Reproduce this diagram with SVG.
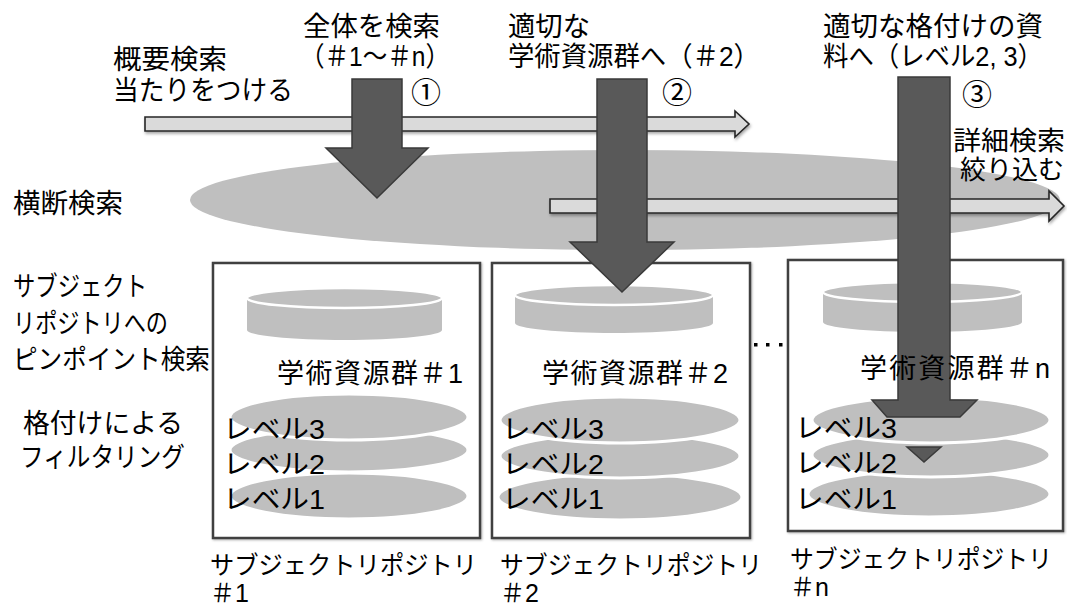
<svg xmlns="http://www.w3.org/2000/svg" width="1067" height="607" viewBox="0 0 1067 607">
<defs>
<style>
text{font-family:"Liberation Sans","Noto Sans CJK JP",sans-serif;fill:#000}
.t{font-size:27px}
.s{font-size:26px}
.c{font-size:30px;font-family:"Noto Sans CJK JP",sans-serif}
.m{font-size:27px}
.lv{font-size:27px}
.bl{font-size:25px}
.dark{fill:#595959;stroke:#3a3a3a;stroke-width:1.5}
.hol{fill:#dadada;stroke:#262626;stroke-width:1.6;filter:url(#sh)}
.box{fill:#fff;stroke:#404040;stroke-width:2.5;filter:url(#sh2)}
.cyl{fill:#bfbfbf}
.cyltop{fill:#bfbfbf;stroke:#fff;stroke-width:2.5}
.lvl{fill:#bfbfbf;stroke:#fff;stroke-width:3}
</style>
<filter id="sh" x="-5%" y="-50%" width="110%" height="200%"><feDropShadow dx="1" dy="2" stdDeviation="1.5" flood-color="#000" flood-opacity="0.35"/></filter>
<filter id="sh2" x="-5%" y="-5%" width="110%" height="110%"><feDropShadow dx="1" dy="1" stdDeviation="1" flood-color="#000" flood-opacity="0.3"/></filter>
</defs>
<rect width="1067" height="607" fill="#fff"/>

<g id="cross-search">
<ellipse cx="625" cy="200" rx="435" ry="50" fill="#bfbfbf"/>
<text class="t" x="13" y="213" textLength="110" lengthAdjust="spacingAndGlyphs">横断検索</text>
</g>

<g id="box1">
<rect class="box" x="213" y="263" width="267" height="275"/>
<path class="cyl" d="M247,298 L247,330 A97.5,10 0 0 0 442,330 L442,298 Z"/>
<ellipse class="cyltop" cx="344.5" cy="298" rx="97.5" ry="10"/>
<text class="m" x="277" y="383" textLength="186" lengthAdjust="spacing">学術資源群＃1</text>
<ellipse class="lvl" cx="349" cy="496" rx="119" ry="23"/>
<ellipse class="lvl" cx="349" cy="450" rx="119" ry="22"/>
<ellipse class="lvl" cx="349" cy="417" rx="119" ry="23"/>
<text class="lv" x="223" y="439" textLength="102" lengthAdjust="spacingAndGlyphs">レベル3</text>
<text class="lv" x="223" y="474" textLength="102" lengthAdjust="spacingAndGlyphs">レベル2</text>
<text class="lv" x="223" y="509" textLength="102" lengthAdjust="spacingAndGlyphs">レベル1</text>
<text class="bl" x="210" y="574" textLength="267" lengthAdjust="spacingAndGlyphs">サブジェクトリポジトリ</text>
<text class="bl" x="210" y="602">＃1</text>
</g>

<g id="box2">
<rect class="box" x="492" y="263" width="258" height="275"/>
<path class="cyl" d="M515,295 L515,323 A99,10 0 0 0 713,323 L713,295 Z"/>
<ellipse class="cyltop" cx="614" cy="295" rx="99" ry="10"/>
<text class="m" x="542" y="383" textLength="186" lengthAdjust="spacing">学術資源群＃2</text>
<ellipse class="lvl" cx="620" cy="497" rx="122" ry="23"/>
<ellipse class="lvl" cx="620" cy="456" rx="120" ry="22"/>
<ellipse class="lvl" cx="620" cy="420" rx="120" ry="23"/>
<text class="lv" x="502" y="439" textLength="102" lengthAdjust="spacingAndGlyphs">レベル3</text>
<text class="lv" x="502" y="474" textLength="102" lengthAdjust="spacingAndGlyphs">レベル2</text>
<text class="lv" x="502" y="509" textLength="102" lengthAdjust="spacingAndGlyphs">レベル1</text>
<text class="bl" x="500" y="574" textLength="262" lengthAdjust="spacingAndGlyphs">サブジェクトリポジトリ</text>
<text class="bl" x="500" y="602">＃2</text>
</g>

<g id="dots" fill="#000">
<rect x="754" y="343" width="3.5" height="3.5"/>
<rect x="766" y="343" width="3.5" height="3.5"/>
<rect x="779" y="343" width="3.5" height="3.5"/>
</g>

<g id="boxn">
<rect class="box" x="788" y="260" width="275" height="271"/>
<path class="cyl" d="M823,292 L823,322 A99.5,10 0 0 0 1022,322 L1022,292 Z"/>
<ellipse class="cyltop" cx="922.5" cy="292" rx="99.5" ry="10"/>
<ellipse class="lvl" cx="929" cy="494" rx="121" ry="23"/>
<ellipse class="lvl" cx="931" cy="455" rx="119" ry="22"/>
<ellipse class="lvl" cx="931" cy="420" rx="119" ry="23"/>
<text class="bl" x="790" y="568" textLength="262" lengthAdjust="spacingAndGlyphs">サブジェクトリポジトリ</text>
<text class="bl" x="790" y="596">＃n</text>
</g>

<g id="connectors">
<path class="hol" d="M145,117 L735,117 L735,111 L749,124 L735,137 L735,131 L145,131 Z"/>
<path class="hol" d="M550,199 L1049,199 L1049,191 L1064,206 L1049,221 L1049,213 L550,213 Z"/>
<path class="dark" d="M352,79 L402,79 L402,148 L428,148 L377,198 L326,148 L352,148 Z"/>
<path class="dark" d="M597,79 L647,79 L647,242 L674,242 L622,292 L570,242 L597,242 Z"/>
<path class="dark" d="M898,77 L950,77 L950,400 L977,400 L960,417 L887,417 L872,400 L898,400 Z"/>
<path class="dark" d="M907,447 L941,447 L924,462 Z"/>
</g>

<g id="labels">
<text class="t" x="113" y="69" textLength="114" lengthAdjust="spacingAndGlyphs">概要検索</text>
<text class="t" x="113" y="100" textLength="180" lengthAdjust="spacingAndGlyphs">当たりをつける</text>
<text class="t" x="303" y="36" textLength="137" lengthAdjust="spacingAndGlyphs">全体を検索</text>
<text class="t" x="300" y="66" textLength="150" lengthAdjust="spacingAndGlyphs">（＃1～＃n）</text>
<text class="c" x="426" y="103" text-anchor="middle">①</text>
<text class="t" x="508" y="36" textLength="82" lengthAdjust="spacingAndGlyphs">適切な</text>
<text class="t" x="508" y="66" textLength="252" lengthAdjust="spacingAndGlyphs">学術資源群へ（＃2）</text>
<text class="c" x="677" y="103" text-anchor="middle">②</text>
<text class="t" x="823" y="36" textLength="220" lengthAdjust="spacingAndGlyphs">適切な格付けの資</text>
<text class="t" x="823" y="66" textLength="220" lengthAdjust="spacingAndGlyphs">料へ（レベル2, 3）</text>
<text class="c" x="977" y="105" text-anchor="middle">③</text>
<text class="s" x="953" y="150" textLength="112" lengthAdjust="spacingAndGlyphs">詳細検索</text>
<text class="s" x="960" y="179" textLength="104" lengthAdjust="spacingAndGlyphs">絞り込む</text>
<text class="t" x="13" y="296" textLength="134" lengthAdjust="spacingAndGlyphs">サブジェクト</text>
<text class="t" x="13" y="333" textLength="155" lengthAdjust="spacingAndGlyphs">リポジトリへの</text>
<text class="t" x="13" y="369" textLength="197" lengthAdjust="spacingAndGlyphs">ピンポイント検索</text>
<text class="t" x="23" y="433" textLength="160" lengthAdjust="spacingAndGlyphs">格付けによる</text>
<text class="t" x="20" y="467" textLength="165" lengthAdjust="spacingAndGlyphs">フィルタリング</text>
<text class="m" x="860" y="378" textLength="190" lengthAdjust="spacing">学術資源群＃n</text>
<text class="lv" x="795" y="438" textLength="102" lengthAdjust="spacingAndGlyphs">レベル3</text>
<text class="lv" x="795" y="473" textLength="102" lengthAdjust="spacingAndGlyphs">レベル2</text>
<text class="lv" x="795" y="509" textLength="102" lengthAdjust="spacingAndGlyphs">レベル1</text>
</g>
</svg>
